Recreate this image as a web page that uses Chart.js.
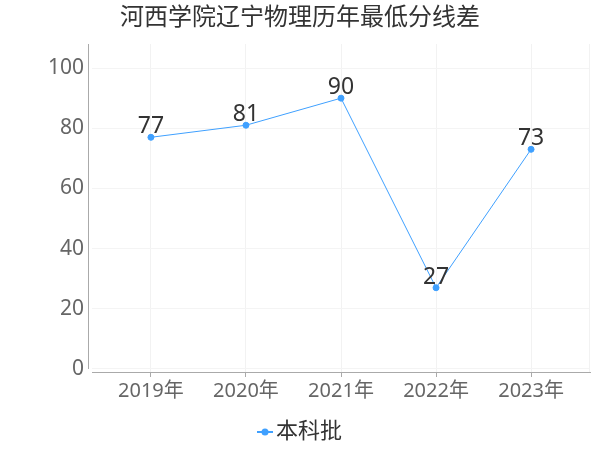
<!DOCTYPE html>
<html><head><meta charset="utf-8">
<script src="https://cdn.jsdelivr.net/npm/chart.js@4"></script>
<style>html,body{margin:0;padding:0;background:#fff}#w{width:600px;height:450px}</style>
</head><body><div id="w"><canvas id="c" width="600" height="450"></canvas></div>
<script>
const titleText = "河西学院辽宁物理历年最低分线差";
const categories = ["2019年","2020年","2021年","2022年","2023年"];
const seriesName = "本科批";
const seriesValues = [77, 81, 90, 27, 73];
const yTicks = [0, 20, 40, 60, 80, 100];

const FONT = '"Noto Sans", "Noto Sans CJK SC", sans-serif';
const LINE = '#3fa0ff';

const deco = {
  id: 'deco',
  afterDraw(chart) {
    const ctx = chart.ctx, a = chart.chartArea, y = chart.scales.y;
    ctx.save();
    // title
    ctx.fillStyle = '#333';
    ctx.font = '24px ' + FONT;
    ctx.textAlign = 'center'; ctx.textBaseline = 'middle';
    ctx.fillText(titleText, 300, 18);
    // y axis line
    ctx.strokeStyle = '#aaa'; ctx.lineWidth = 1;
    ctx.beginPath(); ctx.moveTo(88.5, a.top); ctx.lineTo(88.5, y.getPixelForValue(0)); ctx.stroke();
    // right edge grid
    ctx.strokeStyle = '#f2f2f2';
    ctx.beginPath(); ctx.moveTo(a.right - 0.5, a.top); ctx.lineTo(a.right - 0.5, a.bottom); ctx.stroke();
    // data labels
    const meta = chart.getDatasetMeta(0);
    ctx.fillStyle = '#333'; ctx.font = '23px ' + FONT;
    ctx.textAlign = 'center'; ctx.textBaseline = 'bottom';
    meta.data.forEach((p, i) => { ctx.fillText(String(seriesValues[i]), p.x, p.y + 1); });
    // legend
    const ly = 432;
    ctx.strokeStyle = LINE; ctx.lineWidth = 2;
    ctx.beginPath(); ctx.moveTo(257, ly); ctx.lineTo(273, ly); ctx.stroke();
    ctx.fillStyle = LINE;
    ctx.beginPath(); ctx.arc(265, ly, 3.5, 0, Math.PI * 2); ctx.fill();
    ctx.fillStyle = '#333'; ctx.font = '22px ' + FONT;
    ctx.textAlign = 'left'; ctx.textBaseline = 'middle';
    ctx.fillText(seriesName, 276, ly);
    ctx.restore();
  }
};

new Chart(document.getElementById('c'), {
  type: 'line',
  data: {
    datasets: [{
      label: seriesName,
      data: seriesValues.map((v, i) => ({x: i, y: v})),
      borderColor: LINE, backgroundColor: LINE,
      borderWidth: 1, pointRadius: 3, pointHoverRadius: 3, tension: 0
    }]
  },
  options: {
    responsive: false, animation: false,
    layout: {padding: {top: 44, right: 10, bottom: 0, left: 0}},
    plugins: {legend: {display: false}, title: {display: false}, tooltip: {enabled: false}},
    scales: {
      x: {
        type: 'linear', min: -0.62, max: 4.62,
        afterBuildTicks: s => { s.ticks = categories.map((c, i) => ({value: i})); },
        afterFit: s => { s.height = 78; },
        ticks: {callback: v => categories[v], color: '#666', font: {size: 20, family: FONT}, padding: 2, maxRotation: 0, autoSkip: false},
        grid: {color: '#f2f2f2', tickColor: '#aaa', tickLength: 5, drawTicks: true},
        border: {color: '#aaa'}
      },
      y: {
        min: -1, max: 108,
        afterBuildTicks: s => { s.ticks = yTicks.map(v => ({value: v})); },
        afterFit: s => { s.width = 92; },
        ticks: {color: '#666', font: {size: 21, family: FONT}, padding: 8},
        grid: {color: '#f4f4f4', drawTicks: false},
        border: {display: false}
      }
    }
  },
  plugins: [deco]
});
</script></body></html>
